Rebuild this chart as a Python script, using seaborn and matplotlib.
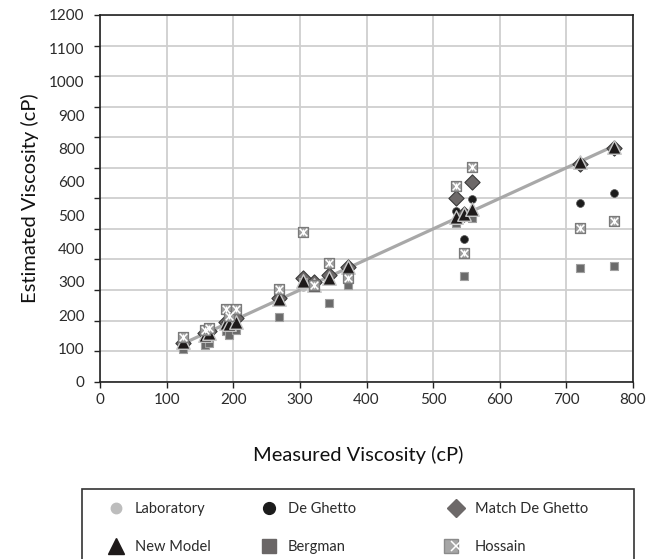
import numpy as np
import pandas as pd
import matplotlib
matplotlib.use("Agg")
import matplotlib.pyplot as plt
import seaborn as sns
from matplotlib.lines import Line2D
from matplotlib.patches import Rectangle
from matplotlib.legend_handler import HandlerTuple

# ---------------- data ----------------
measured = [124, 157, 163, 189, 193, 204, 269, 305, 321, 344, 372, 535, 546, 558, 720, 771]
laboratory = measured
new_model = [130, 152, 160, 191, 188, 196, 270, 330, 318, 338, 376, 540, 549, 564, 718, 769]
de_ghetto = [127, 158, 165, 192, 195, 205, 272, 335, 322, 345, 372, 560, 466, 598, 586, 617]
match_de_ghetto = [128, 160, 166, 195, 197, 208, 275, 340, 325, 348, 374, 600, 550, 653, 714, 764]
bergman = [106, 120, 126, 167, 153, 169, 211, 327, 310, 257, 317, 518, 346, 535, 373, 379]
hossain = [147, 169, 175, 238, 215, 238, 302, 491, 316, 390, 338, 641, 422, 704, 502, 527]

x_ticks = [0, 100, 200, 300, 400, 500, 600, 700, 800]
y_ticks = [0, 100, 200, 300, 400, 500, 600, 700, 800, 900, 1000, 1100, 1200]
y_tick_labels = ["0", "100", "200", "300", "400", "500", "600", "800", "900", "1000", "1100", "1200"]

df = pd.DataFrame({
    "measured": measured, "laboratory": laboratory, "new_model": new_model,
    "de_ghetto": de_ghetto, "match": match_de_ghetto, "bergman": bergman, "hossain": hossain,
})

# ---------------- style ----------------
sns.set_theme(style="white")
plt.rcParams["font.family"] = ["Lato", "DejaVu Sans"]
txt = "#2b2b2b"

fig = plt.figure(figsize=(6.47, 5.59), dpi=100)
ax = fig.add_axes([100 / 647, 1 - 381.7 / 559, 533 / 647, 366.7 / 559])

# Laboratory line
sns.lineplot(data=df, x="measured", y="laboratory", ax=ax, color="#a8a8a8",
             linewidth=2.3, zorder=3, legend=False)
sns.scatterplot(data=df, x="measured", y="laboratory", ax=ax, color="#bdbdbd",
                marker="o", s=25, linewidth=0, zorder=3.5, legend=False)
sns.scatterplot(data=df, x="measured", y="de_ghetto", ax=ax, color="#1c1c1c",
                marker="o", s=32, linewidth=0.5, edgecolor="#555555", zorder=4, legend=False)
sns.scatterplot(data=df, x="measured", y="match", ax=ax, color="#6d6969",
                marker="D", s=60, linewidth=0.8, edgecolor="#3a3a3a", zorder=5, legend=False)
sns.scatterplot(data=df, x="measured", y="bergman", ax=ax, color="#6a6a6a",
                marker="s", s=30, linewidth=0.8, edgecolor="#a0a0a0", zorder=5.5, legend=False)
sns.scatterplot(data=df, x="measured", y="new_model", ax=ax, color="#1e1a1a",
                marker="^", s=95, linewidth=1.0, edgecolor="#c8c8c8", zorder=6, legend=False)
sns.scatterplot(data=df, x="measured", y="hossain", ax=ax, color="#9e9e9e",
                marker="s", s=55, linewidth=0.9, edgecolor="#7a7a7a", zorder=7, legend=False)
sns.scatterplot(data=df, x="measured", y="hossain", ax=ax, color="white",
                marker="x", s=30, linewidth=1.1, zorder=7.5, legend=False)
sns.scatterplot(data=df, x="measured", y="hossain", ax=ax, color="white",
                marker="|", s=25, linewidth=0.9, zorder=7.6, legend=False)

# axes
ax.set_xlim(0, 800)
ax.set_ylim(0, 1200)
ax.set_xticks(x_ticks)
ax.set_xticklabels([str(v) for v in x_ticks])
ax.set_yticks(y_ticks)
ax.tick_params(axis="y", labelleft=False, left=True, direction="out", length=4, width=1, color="#222222")
ax.tick_params(axis="x", bottom=True, direction="out", length=4, width=1, color="#222222",
               labelsize=11, labelcolor=txt, pad=4)
ax.grid(True, color="#cfcfcf", linewidth=1.3)
ax.set_axisbelow(True)
for side in ["left", "bottom", "right", "top"]:
    ax.spines[side].set_visible(True)
    ax.spines[side].set_color("#222222")
    ax.spines[side].set_linewidth(1.2)

# y tick labels (evenly spaced as in the reference)
sec = ax.secondary_yaxis("left")
sec.set_yticks(np.linspace(0, 1200, len(y_tick_labels)))
sec.set_yticklabels(y_tick_labels)
sec.tick_params(length=0, pad=11, labelsize=11, labelcolor=txt)
sec.spines["left"].set_visible(False)

ax.set_xlabel("Measured Viscosity (cP)", fontsize=14.5, color="#111111")
ax.set_ylabel("Estimated Viscosity (cP)", fontsize=14.5, color="#111111")
ax.xaxis.set_label_coords(0.485, -0.175)
ax.yaxis.set_label_coords(-0.115, 0.5)

# ---------------- legend ----------------
fig.add_artist(Rectangle((82 / 647, -0.05), 552 / 647, 0.05 + 1 - 489 / 559,
                         transform=fig.transFigure, fill=False, edgecolor="#333333",
                         linewidth=1.2, clip_on=False))

h_lab = Line2D([], [], linestyle="none", marker="o", markersize=7.5, color="#bdbdbd")
h_new = Line2D([], [], linestyle="none", marker="^", markersize=11, color="#1e1a1a")
h_deg = Line2D([], [], linestyle="none", marker="o", markersize=8.5, color="#1c1c1c")
h_ber = Line2D([], [], linestyle="none", marker="s", markersize=9.5, color="#6a6666")
h_mat = Line2D([], [], linestyle="none", marker="D", markersize=9.5, color="#6d6969")
h_hos_box = Line2D([], [], linestyle="none", marker="s", markersize=9.5, color="#a6a6a6",
                   markeredgecolor="#8a8a8a")
h_hos_x = Line2D([], [], linestyle="none", marker="x", markersize=6.5, color="white", markeredgewidth=1.1)
h_hos_v = Line2D([], [], linestyle="none", marker="|", markersize=6.5, color="white", markeredgewidth=0.9)

common = dict(loc="upper left", frameon=False, fontsize=10.5, handlelength=1.0,
              handletextpad=0.75, labelspacing=1.65, borderpad=0, borderaxespad=0,
              labelcolor=txt, handler_map={tuple: HandlerTuple(ndivide=None)})
leg_y = 1 - 502 / 559
fig.legend([h_lab, h_new], ["Laboratory", "New Model"], bbox_to_anchor=(109 / 647, leg_y), **common)
fig.legend([h_deg, h_ber], ["De Ghetto", "Bergman"], bbox_to_anchor=(262 / 647, leg_y), **common)
fig.legend([h_mat, (h_hos_box, h_hos_x, h_hos_v)], ["Match De Ghetto", "Hossain"],
           bbox_to_anchor=(449 / 647, leg_y), **common)

fig.savefig("out.png", dpi=100)
